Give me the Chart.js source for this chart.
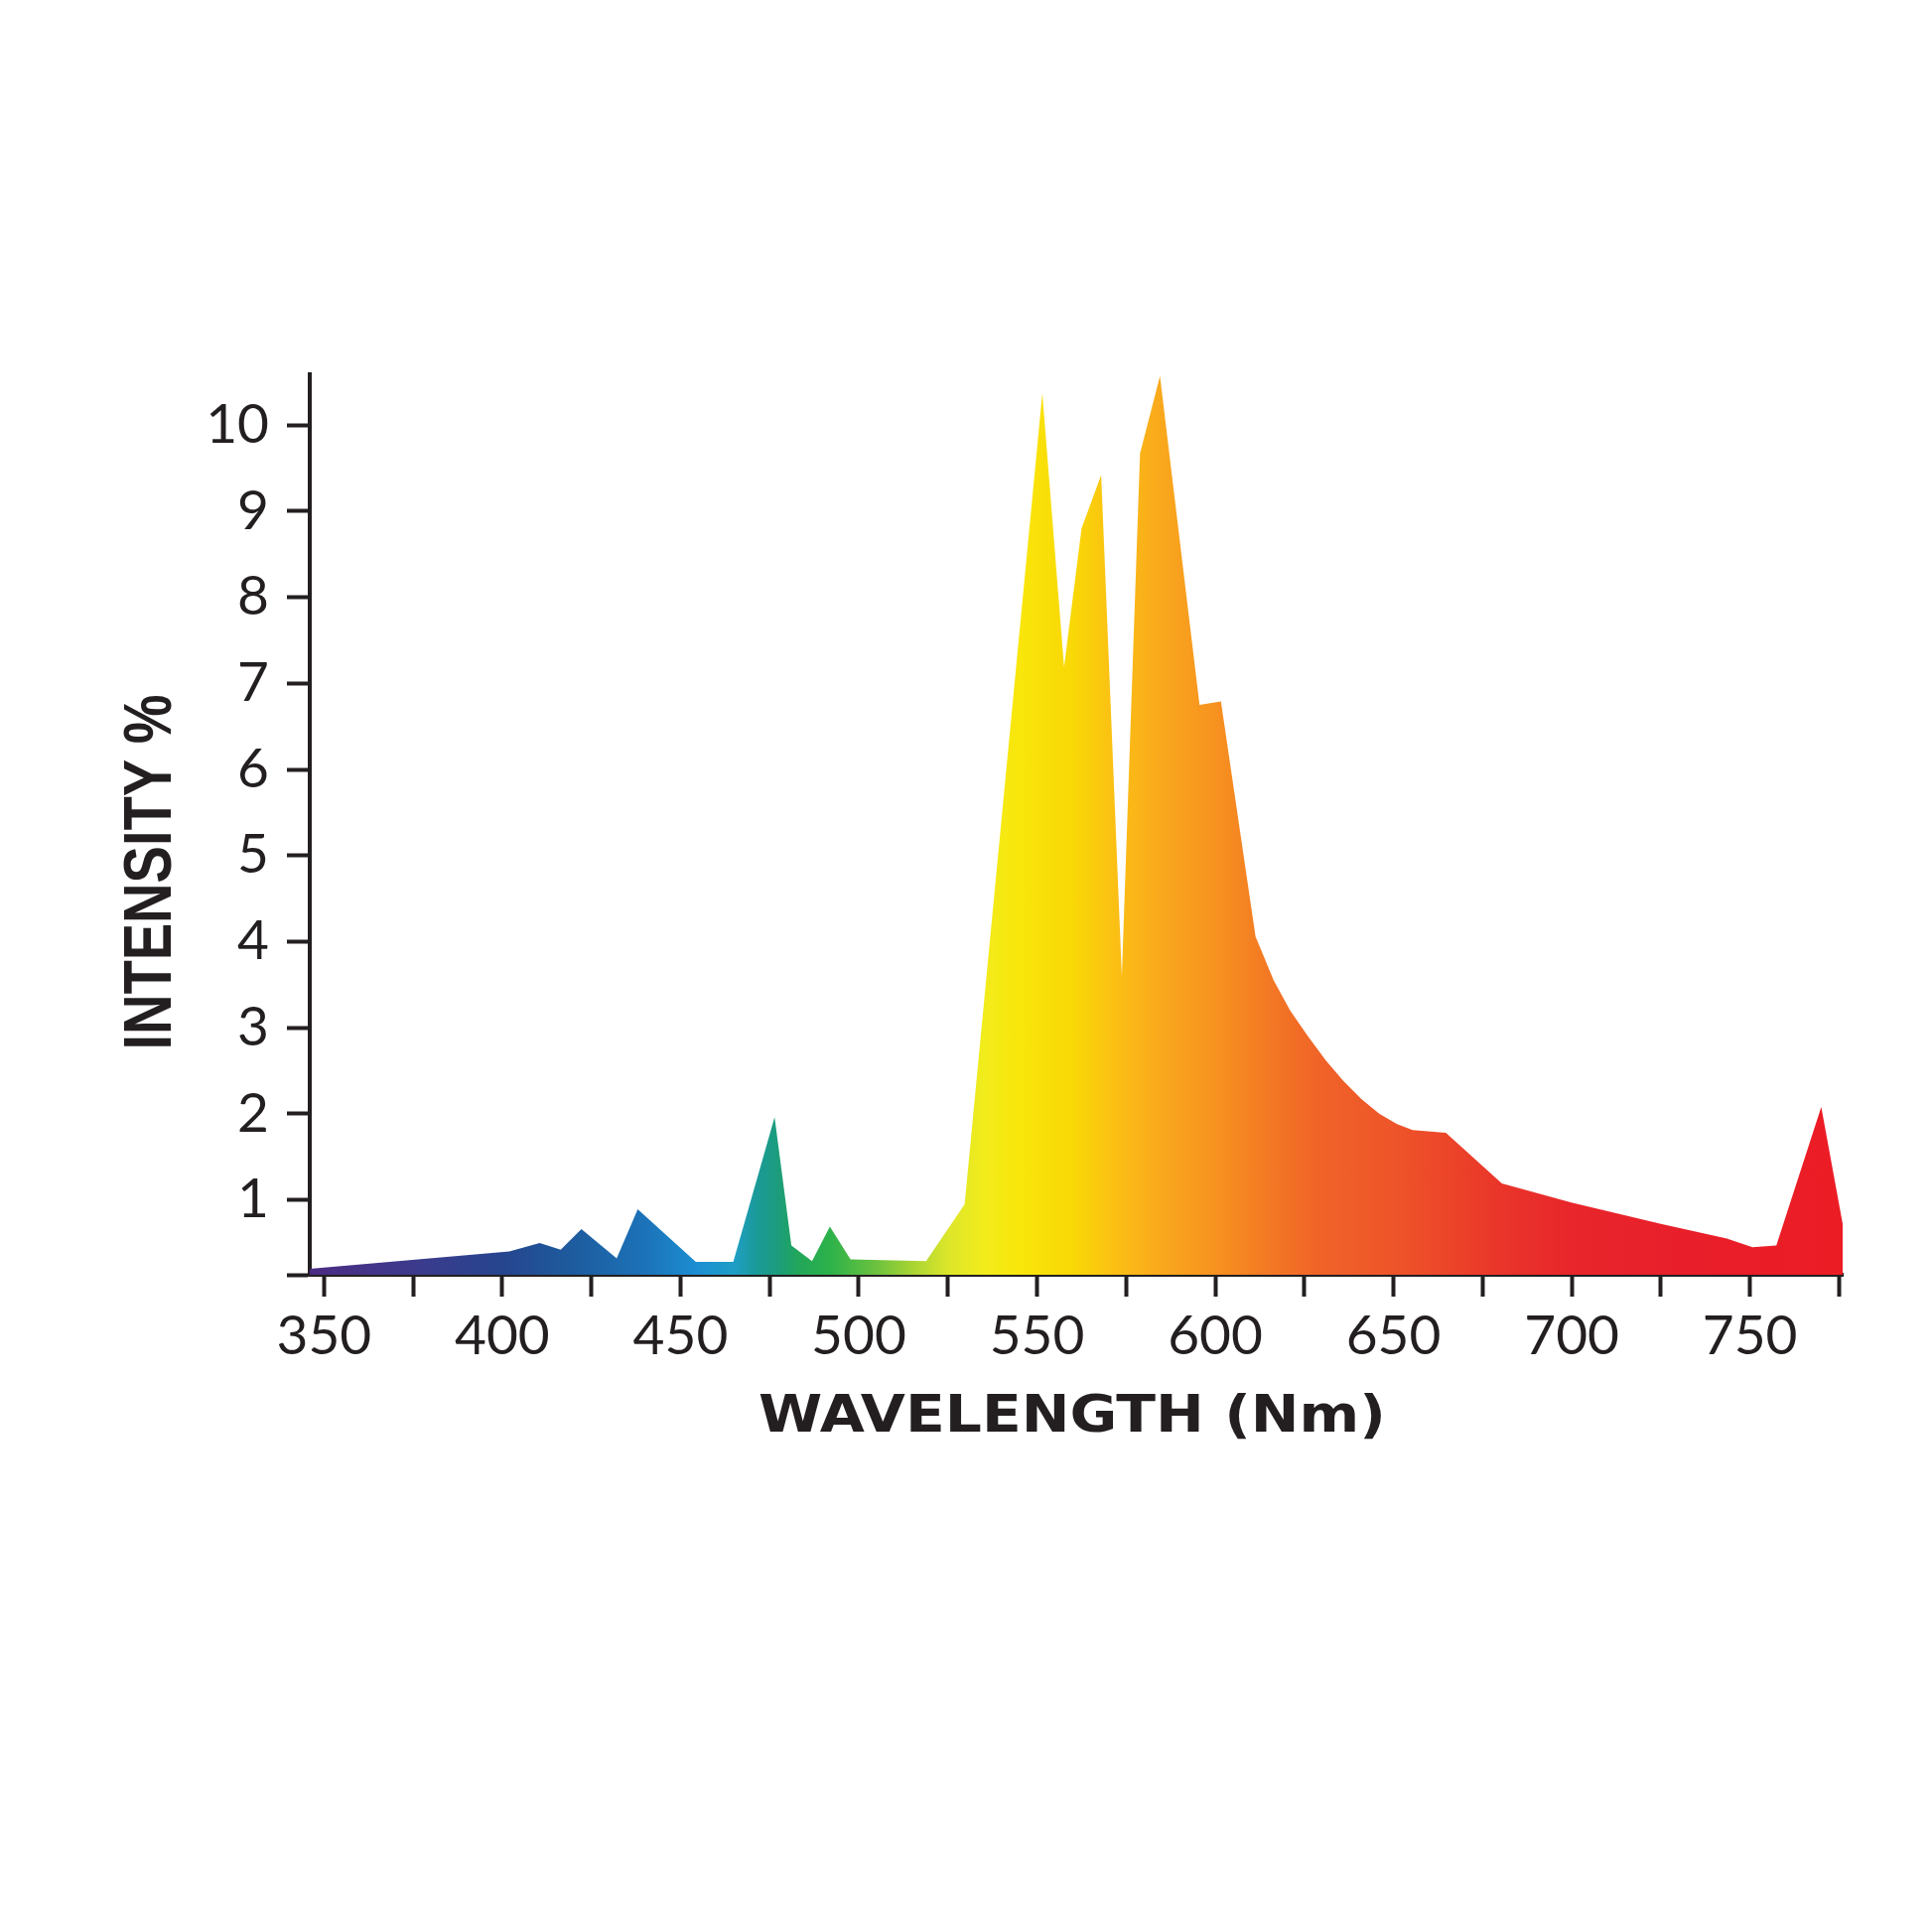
<!DOCTYPE html>
<html lang="en">
<head>
  <meta charset="UTF-8" />
  <title>Spectrum – Intensity vs Wavelength</title>
  <script src="https://cdn.jsdelivr.net/npm/chart.js"></script>
  <style>
    html, body {
      margin: 0;
      padding: 0;
      background: #fff;
    }
    canvas {
      display: block;
    }
  </style>
</head>
<body>
  <canvas id="spectrumChart" width="1946" height="1946" style="width:1946px;height:1946px"></canvas>

  <script>
    // curve: wavelength (nm) and intensity (%)
    const wavelengths = [346, 402, 410.5, 416.4, 422.2, 432.1, 438, 454.3, 464.8, 476.4,
      481.1, 486.9, 491.9, 497.7, 518.9, 529.7, 551.5, 557.6, 562.5, 568,
      573.8, 578.9, 584.5, 595.6, 601.6, 611.3, 616.4, 621, 626, 631,
      636, 641, 646, 651, 655.4, 664.7, 680.4, 699.9, 725, 743.5,
      750.7, 757.4, 770, 776];
    const intensity = [0.2, 0.4, 0.5, 0.42, 0.66, 0.32, 0.89, 0.28, 0.28, 1.96,
      0.47, 0.29, 0.69, 0.31, 0.29, 0.95, 10.37, 7.19, 8.8, 9.42,
      3.6, 9.67, 10.57, 6.75, 6.79, 4.06, 3.55, 3.2, 2.9, 2.62,
      2.38, 2.17, 2.0, 1.88, 1.81, 1.78, 1.19, 0.97, 0.72, 0.55,
      0.45, 0.47, 2.08, 0.72];

    const xTicks = [350, 375, 400, 425, 450, 475, 500, 525, 550, 575, 600, 625, 650, 675, 700, 725, 750, 775];
    const xLabelled = [350, 400, 450, 500, 550, 600, 650, 700, 750];
    const yTicks = [1, 2, 3, 4, 5, 6, 7, 8, 9, 10];

    const xMin = 346, xMax = 776;
    const yMin = 0.13, yMax = 10.59;

    // colour of the fill along the wavelength axis
    const stopNm = [346, 375, 400, 420, 440, 455, 465, 471, 477, 483, 492, 505, 515, 525, 535, 545, 560, 572, 585, 600, 615, 630, 650, 665, 680, 700, 730, 776];
    const stopColors = ["#4b2d83", "#3d3a8c", "#26458f", "#1d5c9e", "#1c72b8", "#1c8fd2", "#1f9ec6", "#1a9a9a", "#1c9c7e", "#22a65a",
      "#2db24a", "#6cc23e", "#a8d433", "#dce62a", "#f2ec1c", "#f9e60a", "#f9d806", "#fbbf14", "#f9a81d", "#f7921f",
      "#f37824", "#f06228", "#ee5529", "#ec4529", "#e9352a", "#e8262b", "#e81f2b", "#ec1c24"];

    const ink = "#231f20";
    const tickFont = { family: "Lato, 'Open Sans', sans-serif", size: 55, weight: "normal" };

    function spectrumFill(context) {
      const chart = context.chart;
      const area = chart.chartArea;
      if (!area) return stopColors[0];
      const x = chart.scales.x;
      const x0 = x.getPixelForValue(xMin);
      const x1 = x.getPixelForValue(xMax);
      const grad = chart.ctx.createLinearGradient(x0, 0, x1, 0);
      stopNm.forEach((nm, i) => {
        const t = (x.getPixelForValue(nm) - x0) / (x1 - x0);
        grad.addColorStop(Math.min(1, Math.max(0, t)), stopColors[i]);
      });
      return grad;
    }

    // axis titles: the y title sits below the axis middle in the original
    const axisTitles = {
      id: "axisTitles",
      afterDraw(chart) {
        const c = chart.ctx;
        const a = chart.chartArea;

        c.save();
        c.fillStyle = ink;
        c.textAlign = "center";
        c.textBaseline = "alphabetic";
        c.font = "bold 51px 'DejaVu Sans', sans-serif";
        const xt = "WAVELENGTH (Nm)";
        const wx = c.measureText(xt).width;
        c.translate((a.left + a.right) / 2 - 4, a.bottom + 158);
        c.scale(632 / wx, 1);
        c.fillText(xt, 0, 0);
        c.restore();

        c.save();
        c.fillStyle = ink;
        c.textAlign = "center";
        c.textBaseline = "alphabetic";
        c.font = "bold 68px 'Liberation Sans Narrow', 'Liberation Sans', sans-serif";
        const yt = "INTENSITY %";
        const wy = c.measureText(yt).width;
        c.translate(a.left - 140, (a.top + a.bottom) / 2 + 48);
        c.rotate(-Math.PI / 2);
        c.scale(358 / wy, 1);
        c.fillText(yt, 0, 0);
        c.restore();
      }
    };

    new Chart(document.getElementById("spectrumChart"), {
      type: "line",
      data: {
        datasets: [{
          data: wavelengths.map((nm, i) => ({ x: nm, y: intensity[i] })),
          backgroundColor: spectrumFill,
          borderColor: "rgba(0,0,0,0)",
          borderWidth: 0,
          pointRadius: 0,
          tension: 0,
          fill: "start"
        }]
      },
      options: {
        responsive: false,
        devicePixelRatio: 1,
        animation: false,
        layout: {
          padding: { left: 162, right: 90, top: 377, bottom: 562 }
        },
        plugins: {
          legend: { display: false },
          tooltip: { enabled: false }
        },
        scales: {
          x: {
            type: "linear",
            min: xMin,
            max: xMax,
            afterBuildTicks: scale => { scale.ticks = xTicks.map(v => ({ value: v })); },
            afterFit: scale => { scale.height = 100; },
            border: { display: true, color: ink, width: 4 },
            grid: { drawOnChartArea: false, color: ink, tickColor: ink, tickLength: 22, tickWidth: 4 },
            ticks: {
              autoSkip: false,
              maxRotation: 0,
              minRotation: 0,
              padding: 7,
              color: ink,
              font: tickFont,
              callback: v => xLabelled.includes(v) ? String(v) : ""
            }
          },
          y: {
            min: yMin,
            max: yMax,
            afterBuildTicks: scale => { scale.ticks = [yMin].concat(yTicks).map(v => ({ value: v })); },
            afterFit: scale => { scale.width = 150; },
            border: { display: true, color: ink, width: 4 },
            grid: { drawOnChartArea: false, color: ink, tickColor: ink, tickLength: 23, tickWidth: 4 },
            ticks: {
              padding: 18,
              color: ink,
              font: tickFont,
              callback: v => yTicks.includes(v) ? String(v) : ""
            }
          }
        }
      },
      plugins: [axisTitles]
    });
  </script>
</body>
</html>
